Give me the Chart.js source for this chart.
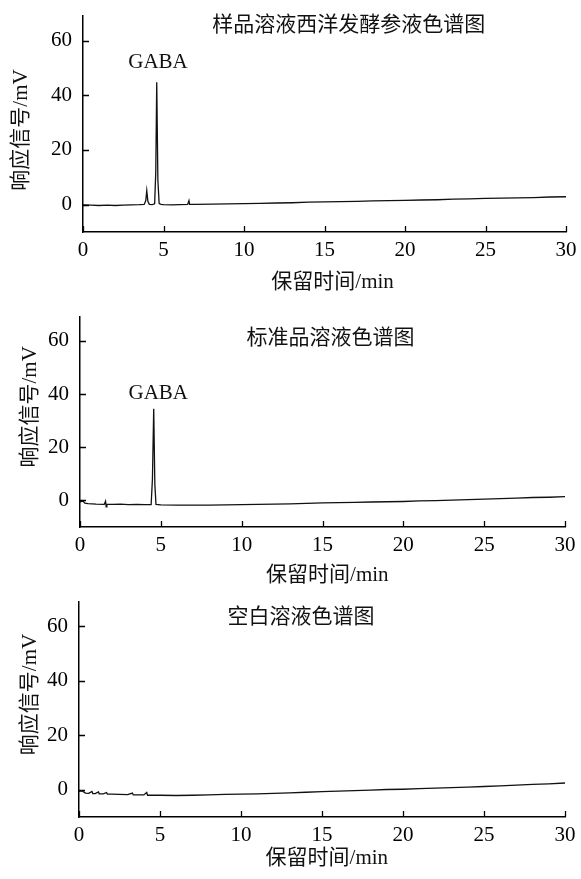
<!DOCTYPE html>
<html>
<head>
<meta charset="utf-8">
<script src="https://cdn.jsdelivr.net/npm/chart.js@4.4.1/dist/chart.umd.min.js"></script>
<style>
  body { margin: 0; background: #fff; width: 581px; height: 879px; position: relative; overflow: hidden; }
  canvas { position: absolute; left: 0; }
</style>
</head>
<body>
<canvas id="c1" width="581" height="293" style="top:0px"></canvas>
<canvas id="c2" width="581" height="293" style="top:293px"></canvas>
<canvas id="c3" width="581" height="293" style="top:586px"></canvas>
<script>
const xTicks = [0, 5, 10, 15, 20, 25, 30];
const yTicks = [0, 20, 40, 60];
const panelTitles = ['样品溶液西洋发酵参液色谱图', '标准品溶液色谱图', '空白溶液色谱图'];
const xTitle = '保留时间/min';
const yTitle = '响应信号/mV';
const peakName = 'GABA';

// sample: fermented American ginseng liquid
const tSample = [0, 0.5, 1, 1.5, 2, 2.5, 3, 3.5, 3.8, 3.9, 3.96, 4.03, 4.12, 4.3, 4.45, 4.52, 4.58, 4.65, 4.73, 4.85, 5, 5.5, 6, 6.5, 6.58, 6.62, 7, 8, 9, 10, 11, 12, 13, 14, 15, 16, 17, 18, 19, 20, 21, 22, 23, 24, 25, 26, 27, 28, 29, 30];
const vSample = [-0.1, -0.2, -0.3, -0.2, -0.3, -0.2, -0.1, 0, 0.1, 1.5, 5.1, 1.2, 0.1, 0, 0.3, 12, 44.8, 9, 0.4, 0.1, 0, -0.1, 0, 0.1, 1.5, 0.1, 0.1, 0.2, 0.3, 0.4, 0.5, 0.6, 0.7, 0.9, 1.0, 1.1, 1.2, 1.4, 1.5, 1.6, 1.7, 1.8, 2.0, 2.1, 2.3, 2.4, 2.5, 2.6, 2.8, 2.9];

// standard solution
const tStd = [0, 0.2, 0.3, 0.5, 1, 1.5, 1.58, 1.62, 1.66, 2, 2.5, 3, 3.5, 4, 4.4, 4.48, 4.56, 4.63, 4.7, 5, 6, 7, 8, 9, 10, 11, 12, 13, 14, 15, 16, 17, 18, 19, 20, 21, 22, 23, 24, 25, 26, 27, 28, 29, 30];
const vStd = [-0.5, -0.3, -1.0, -1.2, -1.4, -1.5, -0.3, -2.4, -1.5, -1.5, -1.4, -1.6, -1.5, -1.6, -1.6, 8, 34.5, 6, -1.5, -1.7, -1.8, -1.8, -1.8, -1.7, -1.6, -1.5, -1.4, -1.3, -1.1, -0.9, -0.8, -0.7, -0.6, -0.5, -0.4, -0.2, -0.1, 0.1, 0.3, 0.5, 0.7, 0.9, 1.1, 1.2, 1.4];

// blank solution
const tBlank = [0, 0.2, 0.4, 0.6, 0.8, 0.85, 1.0, 1.2, 1.25, 1.5, 1.7, 1.75, 2, 3, 3.3, 3.35, 4, 4.18, 4.23, 5, 6, 7, 8, 9, 10, 11, 12, 13, 14, 15, 16, 17, 18, 19, 20, 21, 22, 23, 24, 25, 26, 27, 28, 29, 30];
const vBlank = [-0.6, -0.4, -1.2, -1.3, -0.6, -1.4, -1.4, -0.8, -1.5, -1.5, -1.0, -1.6, -1.6, -1.8, -1.2, -1.9, -1.9, -1.0, -2.0, -2.0, -2.1, -2.0, -1.9, -1.7, -1.6, -1.5, -1.3, -1.1, -0.9, -0.7, -0.5, -0.3, -0.1, 0.1, 0.2, 0.4, 0.6, 0.8, 1.0, 1.2, 1.4, 1.7, 2.0, 2.2, 2.5];

const serif = "'Liberation Serif', 'Noto Sans CJK SC', serif";

// inward tick marks and text labels
const extras = {
  id: 'extras',
  afterDraw(chart, args, o) {
    const { ctx, scales: { x, y } } = chart;
    ctx.save();
    ctx.strokeStyle = '#000';
    ctx.lineWidth = 1.3;
    ctx.beginPath();
    x.ticks.forEach(t => {
      const px = Math.round(x.getPixelForValue(t.value)) + 0.5;
      ctx.moveTo(px, y.bottom); ctx.lineTo(px, y.bottom - 6);
    });
    y.ticks.forEach(t => {
      const py = Math.round(y.getPixelForValue(t.value)) + 0.5;
      ctx.moveTo(x.left, py); ctx.lineTo(x.left + 6, py);
    });
    ctx.stroke();

    ctx.fillStyle = '#111';
    ctx.textAlign = 'center';
    ctx.textBaseline = 'middle';
    ctx.font = '21px ' + serif;
    ctx.fillText(o.title, x.getPixelForValue(o.titleAt[0]), y.getPixelForValue(o.titleAt[1]));
    if (o.peakAt) {
      ctx.fillText(peakName, x.getPixelForValue(o.peakAt[0]), y.getPixelForValue(o.peakAt[1]));
    }
    ctx.fillText(xTitle, x.getPixelForValue(o.xTitleAt), y.bottom + o.xTitleDy);
    ctx.translate(o.yTitleX, y.getPixelForValue(o.yTitleAt));
    ctx.rotate(-Math.PI / 2);
    ctx.fillText(yTitle, 0, 0);
    ctx.restore();
  }
};

function makeChart(id, times, values, box, labels) {
  const H = 293;
  return new Chart(document.getElementById(id), {
    type: 'line',
    data: {
      datasets: [{
        data: times.map((t, i) => ({ x: t, y: values[i] })),
        borderColor: '#111',
        borderWidth: 1.3,
        pointRadius: 0,
        tension: 0,
        fill: false
      }]
    },
    options: {
      responsive: false,
      animation: false,
      events: [],
      layout: { padding: { left: 0, top: box.top, right: 581 - box.right, bottom: 0 } },
      plugins: { legend: { display: false }, tooltip: { enabled: false }, extras: labels },
      scales: {
        x: {
          type: 'linear',
          min: 0, max: 30,
          afterFit: s => { s.height = H - box.bottom; s.paddingLeft = 0; s.paddingRight = 0; },
          afterBuildTicks: s => { s.ticks = xTicks.map(v => ({ value: v })); },
          grid: { display: false, drawTicks: false },
          border: { display: true, color: '#000', width: 1.5 },
          ticks: { color: '#000', padding: 6, maxRotation: 0, font: { family: serif, size: 21 } }
        },
        y: {
          min: -10, max: 69,
          afterFit: s => { s.width = box.left; s.paddingTop = 0; s.paddingBottom = 0; },
          afterBuildTicks: s => { s.ticks = yTicks.map(v => ({ value: v })); },
          grid: { display: false, drawTicks: false },
          border: { display: true, color: '#000', width: 1.5 },
          ticks: { color: '#000', padding: 11, font: { family: serif, size: 21 } }
        }
      }
    },
    plugins: [extras]
  });
}

makeChart('c1', tSample, vSample, { left: 83, right: 566, top: 16, bottom: 232 },
  { title: panelTitles[0], titleAt: [16.5, 65.7], peakAt: [4.66, 52], xTitleAt: 15.5, xTitleDy: 50, yTitleX: 21, yTitleAt: 27.3 });
makeChart('c2', tStd, vStd, { left: 80, right: 565, top: 24, bottom: 234 },
  { title: panelTitles[1], titleAt: [15.5, 61], peakAt: [4.84, 40.1], xTitleAt: 15.3, xTitleDy: 48, yTitleX: 30, yTitleAt: 35.2 });
makeChart('c3', tBlank, vBlank, { left: 79, right: 565, top: 16, bottom: 231 },
  { title: panelTitles[2], titleAt: [13.7, 63.4], xTitleAt: 15.3, xTitleDy: 41, yTitleX: 30, yTitleAt: 35 });
</script>
</body>
</html>
